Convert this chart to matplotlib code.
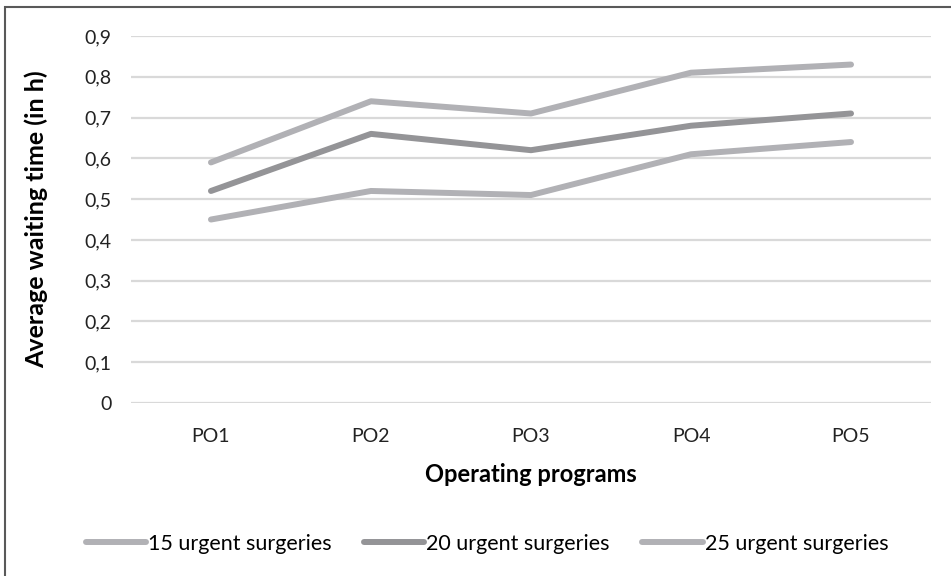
import matplotlib.pyplot as plt
from matplotlib.patches import Rectangle

programs = ['PO1', 'PO2', 'PO3', 'PO4', 'PO5']
urgent_15 = [0.45, 0.52, 0.51, 0.61, 0.64]
urgent_20 = [0.52, 0.66, 0.62, 0.68, 0.71]
urgent_25 = [0.59, 0.74, 0.71, 0.81, 0.83]
yticks = [0, 0.1, 0.2, 0.3, 0.4, 0.5, 0.6, 0.7, 0.8, 0.9]

plt.rcParams['font.family'] = ['Lato', 'DejaVu Sans']

fig = plt.figure(figsize=(9.51, 5.76), dpi=100)
ax = fig.add_axes([0.1377, 0.3003, 0.8413, 0.6372])

x = range(len(programs))
light = '#b1b1b5'
dark = '#949497'
ax.plot(x, urgent_15, color=light, lw=4.3, solid_capstyle='round', label='15 urgent surgeries')
ax.plot(x, urgent_20, color=dark, lw=4.3, solid_capstyle='round', label='20 urgent surgeries')
ax.plot(x, urgent_25, color=light, lw=4.3, solid_capstyle='round', label='25 urgent surgeries')

ax.set_xlim(-0.5, 4.5)
ax.set_ylim(0, 0.9)
ax.set_xticks(list(x))
ax.set_xticklabels(programs, fontsize=14)
ax.set_yticks(yticks)
ax.set_yticklabels([('%.1f' % v).replace('.', ',') if v else '0' for v in yticks], fontsize=14)
ax.tick_params(length=0, pad=14, colors='#222222')
ax.tick_params(axis='x', pad=18)
for s in ax.spines.values():
    s.set_visible(False)
ax.yaxis.grid(True, color='#d9d9d9', lw=1.6)
ax.set_axisbelow(True)
ax.set_ylabel('Average waiting time (in h)', fontsize=18, fontweight='bold', labelpad=26)
ax.set_xlabel('Operating programs', fontsize=17, fontweight='bold', labelpad=13)

ax.legend(loc='center', bbox_to_anchor=(0.445, -0.384), ncol=3, frameon=False,
          fontsize=15.5, handlelength=2.8, handletextpad=0.1, columnspacing=1.5)

fig.patches.append(Rectangle((5 / 951, -0.1), 1.2, 1 - 7 / 576 + 0.1, transform=fig.transFigure,
                             fill=False, edgecolor='#595959', lw=1.5))

plt.savefig('out.png')
